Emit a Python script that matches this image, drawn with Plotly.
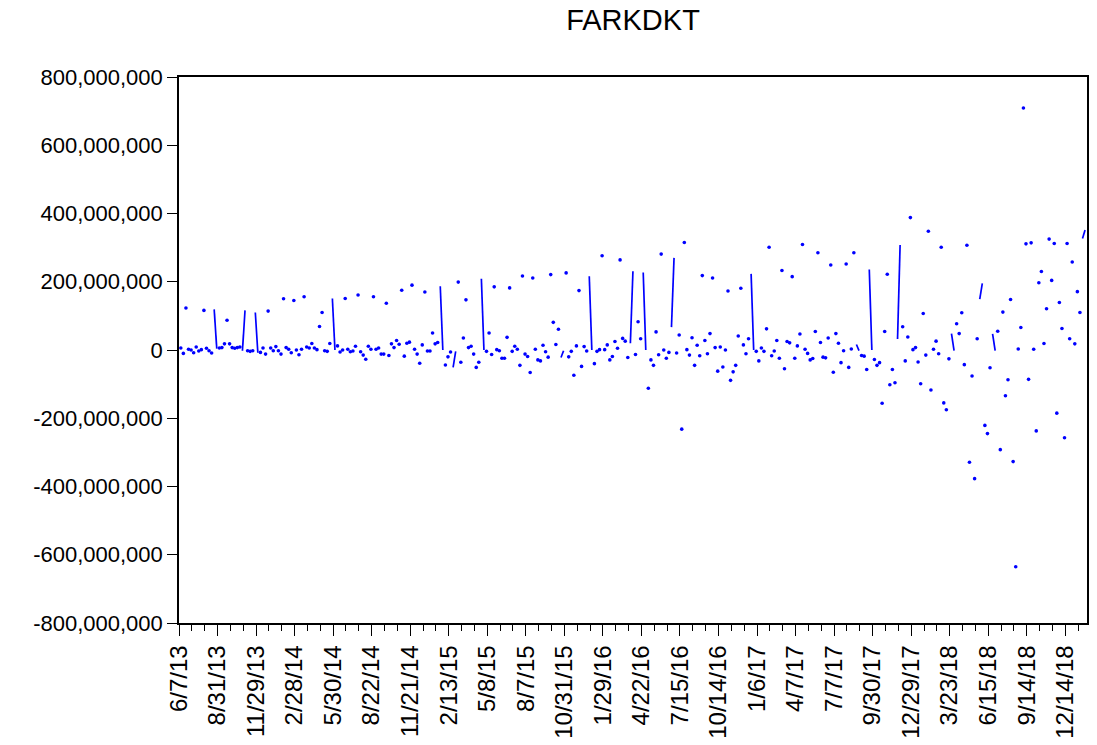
import plotly.graph_objects as go

# ---- data -------------------------------------------------------------
series_name = "FARKDKT"

date_labels = [
    "6/7/13", "8/31/13", "11/29/13", "2/28/14", "5/30/14", "8/22/14",
    "11/21/14", "2/13/15", "5/8/15", "8/7/15", "10/31/15", "1/29/16",
    "4/22/16", "7/15/16", "10/14/16", "1/6/17", "4/7/17", "7/7/17",
    "9/30/17", "12/29/17", "3/23/18", "6/15/18", "9/14/18", "12/14/18",
]

# FARKDKT observations, in millions
farkdkt_mn = [
    6, -10, 123, 2, 0, -8, 9, -3, 1, 116,
    5, -2, -9, 119, 4, 6, 7, 18, 87, 18,
    7, 5, 7, 9, -2, 116, -2, -4, -2, 110,
    -8, -7, 6, -12, 114, 6, -2, 10, -2, -12,
    150, 7, 2, -8, 145, 0, -14, 2, 156, 9,
    6, 19, 6, 1, 69, 110, -2, -4, 19, 151,
    0, 12, -6, 0, 151, 2, -5, -3, 11, 161,
    -5, -15, -27, 11, 2, 156, 2, 6, -12, -12,
    137, -16, 18, 7, 28, 17, 175, -18, 20, 23,
    190, 2, -12, -39, 15, 170, -3, -3, 50, 18,
    22, 187, 0, -44, -20, -6, -51, -4, 199, -36,
    35, 147, 7, 11, -12, -51, -36, 209, 0, -4,
    50, -13, 185, 1, -2, -24, -24, 37, 182, -4,
    11, 2, -45, 217, -12, -19, -66, 211, 2, -29,
    -32, 14, -5, -21, 221, 81, 16, 61, -22, -2,
    226, -20, -4, -74, 12, 174, -48, 10, -3, 216,
    0, -40, -4, 1, 276, 1, 15, -29, -19, 25,
    5, 264, 34, 26, -22, 20, 231, -13, 83, 33,
    227, 0, -112, -29, -45, 53, -14, 281, 0, -24,
    -7, 67, 270, -9, 44, -232, 315, 1, -15, 36,
    -45, 14, -17, 218, 28, -11, 48, 211, 7, -62,
    9, -50, 0, 173, -89, -64, -45, 41, 181, 15,
    -11, 33, 223, 0, -4, -32, 6, -4, 62, 301,
    -17, -3, 28, -24, 233, -55, 25, 21, 215, -24,
    12, 47, 309, 2, -10, -29, -25, 54, 285, 22,
    -21, -23, 35, 249, -65, 48, 20, -37, -2, 252,
    -51, 3, 285, 16, -2, -16, -18, -57, 236, 0,
    -28, -45, -37, -156, 54, 222, -102, -57, -96, 32,
    308, 68, -32, 38, 388, 1, 7, -35, -99, 107,
    -15, 348, -117, 2, 26, -11, 301, -155, -175, -26,
    48, -2, 77, 48, 109, -43, 307, -329, -76, -377,
    33, 149, 195, -221, -245, -52, 47, -2, 55, -292,
    111, -134, -87, 148, -327, -635, 3, 66, 709, 311,
    -86, 314, 2, -237, 197, 230, 19, 121, 325, 204,
    312, -185, 139, 63, -257, 312, 33, 258, 18, 171,
    110, 327, 352,
]

# observations whose value is joined by a line to the next observation
joined_from = [13, 24, 29, 59, 101, 106, 117, 148, 159, 175, 180, 191,
               222, 263, 268, 279, 300, 311, 316, 351]

y_tick_values = [-800_000_000, -600_000_000, -400_000_000, -200_000_000, 0,
                 200_000_000, 400_000_000, 600_000_000, 800_000_000]

# ---- derived plotting arrays ------------------------------------------
values = [v * 1_000_000 for v in farkdkt_mn]
n_obs = len(values)
obs_per_label = 15
x_left = -0.7
x_right = n_obs - 1 + 0.75

major_ticks = [x_left + obs_per_label * k for k in range(len(date_labels))]
minor_ticks = [x_left + 5 * k for k in range(int((x_right - x_left) // 5) + 1)
               if k % 3 != 0]

seg_x, seg_y = [], []
on_segment = set()
for i in joined_from:
    seg_x += [i, i + 1, None]
    seg_y += [values[i], values[i + 1], None]
    on_segment.update((i, i + 1))

dot_x = [i for i in range(n_obs) if i not in on_segment]
dot_y = [values[i] for i in dot_x]

y_tick_text = [f"{v:,}" for v in y_tick_values]

# ---- figure -----------------------------------------------------------
blue = "rgb(0,0,255)"
font_family = "Liberation Sans, Arial, sans-serif"

fig = go.Figure()
fig.add_trace(go.Scatter(
    x=seg_x, y=seg_y, mode="lines",
    line=dict(color=blue, width=1.7),
    connectgaps=False, hoverinfo="skip", showlegend=False,
))
fig.add_trace(go.Scatter(
    x=dot_x, y=dot_y, mode="markers",
    marker=dict(color=blue, size=3.6, line=dict(width=0)),
    showlegend=False,
))

fig.update_layout(
    width=1097, height=745,
    margin=dict(l=179, r=10, t=77, b=122),
    paper_bgcolor="white", plot_bgcolor="white",
    font=dict(family=font_family, size=22, color="black"),
    title=dict(text=series_name, x=0.5, xref="paper", xanchor="center",
               y=1 - 20 / 745, yref="container", yanchor="middle",
               font=dict(family=font_family, size=29, color="black")),
)

fig.update_xaxes(
    automargin=False,
    range=[x_left, x_right],
    tickmode="array", tickvals=major_ticks, ticktext=date_labels,
    tickangle=-90, ticks="outside", ticklen=11, tickwidth=1.2,
    tickcolor="black",
    minor=dict(tickmode="array", tickvals=minor_ticks, ticks="outside",
               ticklen=6, tickwidth=1.2, tickcolor="black", showgrid=False),
    showline=True, linecolor="black", linewidth=1.6, mirror=True,
    showgrid=False, zeroline=False,
    tickfont=dict(family=font_family, size=24, color="black"),
)
fig.update_yaxes(
    automargin=False,
    range=[-800_000_000, 800_000_000],
    tickmode="array", tickvals=y_tick_values, ticktext=y_tick_text,
    ticks="outside", ticklen=10, tickwidth=1.2, tickcolor="black",
    showline=True, linecolor="black", linewidth=1.6, mirror=True,
    showgrid=False, zeroline=False,
    tickfont=dict(family=font_family, size=22, color="black"),
)

fig.write_html("out.html")
